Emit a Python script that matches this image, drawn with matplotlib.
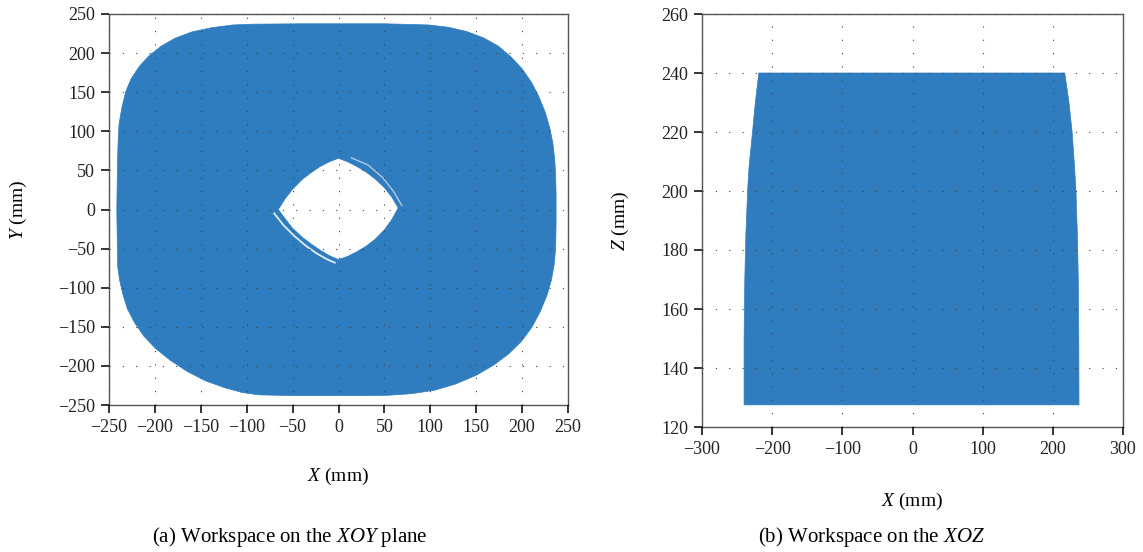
import numpy as np
import matplotlib
matplotlib.use("Agg")
import matplotlib.pyplot as plt
from matplotlib.path import Path
from matplotlib.patches import PathPatch

plt.rcParams['font.family'] = ['Liberation Serif', 'DejaVu Serif']
plt.rcParams['mathtext.fontset'] = 'custom'
plt.rcParams['mathtext.rm'] = 'Liberation Serif'
plt.rcParams['mathtext.it'] = 'Liberation Serif:italic'

BLUE = '#2f7dbf'

# workspace on XOY plane: outer boundary (clockwise)
xoy_outer_x = [-93, -40, 0, 50, 98, 120, 140, 158, 174, 188, 200, 210, 218, 225, 230, 233.5,
               235.5, 236.5, 237, 237, 236.5, 235, 232, 227, 220, 211, 199, 185, 169, 150,
               128, 105, 80, 55, 34, 0, -50, -87, -105, -125, -145, -165, -183, -199, -212,
               -222, -230, -235, -238.5, -240.5, -241, -241.5, -241, -240.5, -240, -239,
               -236, -232, -226, -217, -206, -193, -178, -160, -138, -115]
xoy_outer_y = [237, 237.5, 237.5, 237.5, 236, 233, 227.5, 219.5, 209, 195, 180, 163, 145, 125,
               105, 85, 65, 45, 20, -20, -50, -70, -90, -110, -130, -150, -169, -185, -199,
               -212, -223, -231, -235.5, -237.5, -238, -238, -238, -237, -234, -227.5, -219,
               -207, -193, -178, -162, -145, -127, -108, -90, -73, -40, 0, 40, 70, 89, 110,
               130, 150, 167, 183, 197, 209, 219, 227, 232.5, 236]
# inner hole (clockwise)
xoy_hole_x = [0, 10, 20, 30, 40, 50, 58, 65, 58, 50, 40, 30, 20, 10, 0,
              -10, -20, -30, -40, -50, -58, -65.6, -58, -50, -40, -30, -20, -10]
xoy_hole_y = [65.5, 61, 55, 48, 39, 28, 16, 2, -13, -26, -38, -47, -54, -60, -64,
              -59, -52, -44, -35, -24, -12, 0, 14, 26, 38, 47, 55, 61]
# thin light streaks beside the hole
streak1_x = [-70, -60, -48, -36, -24, -12, -4]
streak1_y = [-5, -20, -34, -46, -56, -64, -68]
streak2_x = [14, 32, 48, 60, 69]
streak2_y = [66, 57, 41, 23, 5]

# workspace on XOZ plane
xoz_z = [240, 230, 220, 208, 200, 185, 170, 150, 127.5]
xoz_left = [-219, -224, -228, -233, -235, -237.5, -239, -240, -240]
xoz_right = [217, 223, 227.5, 231, 233, 235, 236.3, 237, 237.3]

xoy_ticks = np.arange(-250, 251, 50)
xoz_xticks = np.arange(-300, 301, 100)
xoz_zticks = np.arange(120, 261, 20)


def style_axes(ax):
    for side in ['top', 'right', 'bottom', 'left']:
        ax.spines[side].set_color('#555555')
        ax.spines[side].set_linewidth(1.0)
    ax.tick_params(direction='out', length=6, width=1.1, color='black',
                   labelsize=13, labelcolor='#222222', pad=4, top=False, right=False)
    ax.grid(True, color='0.25', linestyle=(0, (1, 11)), linewidth=0.8)
    ax.set_axisbelow(False)


fig = plt.figure(figsize=(11.43, 5.52), dpi=100)
ax1 = fig.add_axes([109/1143, 1-405/552, 459/1143, 391/552])
ax2 = fig.add_axes([702/1143, 1-427/552, 421/1143, 413/552])

# (a) XOY
outer = list(zip(xoy_outer_x, xoy_outer_y))
hole = list(zip(xoy_hole_x, xoy_hole_y))[::-1]
verts = outer + [outer[0]] + hole + [hole[0]]
codes = ([Path.MOVETO] + [Path.LINETO]*(len(outer)-1) + [Path.CLOSEPOLY] +
         [Path.MOVETO] + [Path.LINETO]*(len(hole)-1) + [Path.CLOSEPOLY])
ax1.add_patch(PathPatch(Path(verts, codes), facecolor=BLUE, edgecolor=BLUE, lw=0.5, zorder=1))
ax1.plot(streak1_x, streak1_y, color='white', lw=1.3, alpha=0.85, zorder=1.5)
ax1.plot(streak2_x, streak2_y, color='white', lw=1.0, alpha=0.6, zorder=1.5)
ax1.set_xlim(-250, 250)
ax1.set_ylim(-250, 250)
ax1.set_xticks(xoy_ticks)
ax1.set_yticks(xoy_ticks)
style_axes(ax1)
ax1.set_xlabel(r'$X$ (mm)', fontsize=14)
ax1.set_ylabel(r'$Y$ (mm)', fontsize=14)
ax1.xaxis.set_label_coords(0.5, -0.155)
ax1.yaxis.set_label_coords(-0.174, 0.5)

# (b) XOZ
poly_x = xoz_left + xoz_right[::-1]
poly_z = xoz_z + xoz_z[::-1]
ax2.fill(poly_x, poly_z, facecolor=BLUE, edgecolor=BLUE, lw=0.5, zorder=1)
ax2.set_xlim(-300, 300)
ax2.set_ylim(120, 260)
ax2.set_xticks(xoz_xticks)
ax2.set_yticks(xoz_zticks)
style_axes(ax2)
ax2.set_xlabel(r'$X$ (mm)', fontsize=14)
ax2.set_ylabel(r'$Z$ (mm)', fontsize=14)
ax2.xaxis.set_label_coords(0.5, -0.155)
ax2.yaxis.set_label_coords(-0.169, 0.5)

fig.text(290/1143, 1-537/552, r'(a) Workspace on the $XOY$ plane', ha='center', va='center', fontsize=15)
fig.text(872/1143, 1-537/552, r'(b) Workspace on the $XOZ$', ha='center', va='center', fontsize=15)

fig.savefig('out.png', dpi=100)
